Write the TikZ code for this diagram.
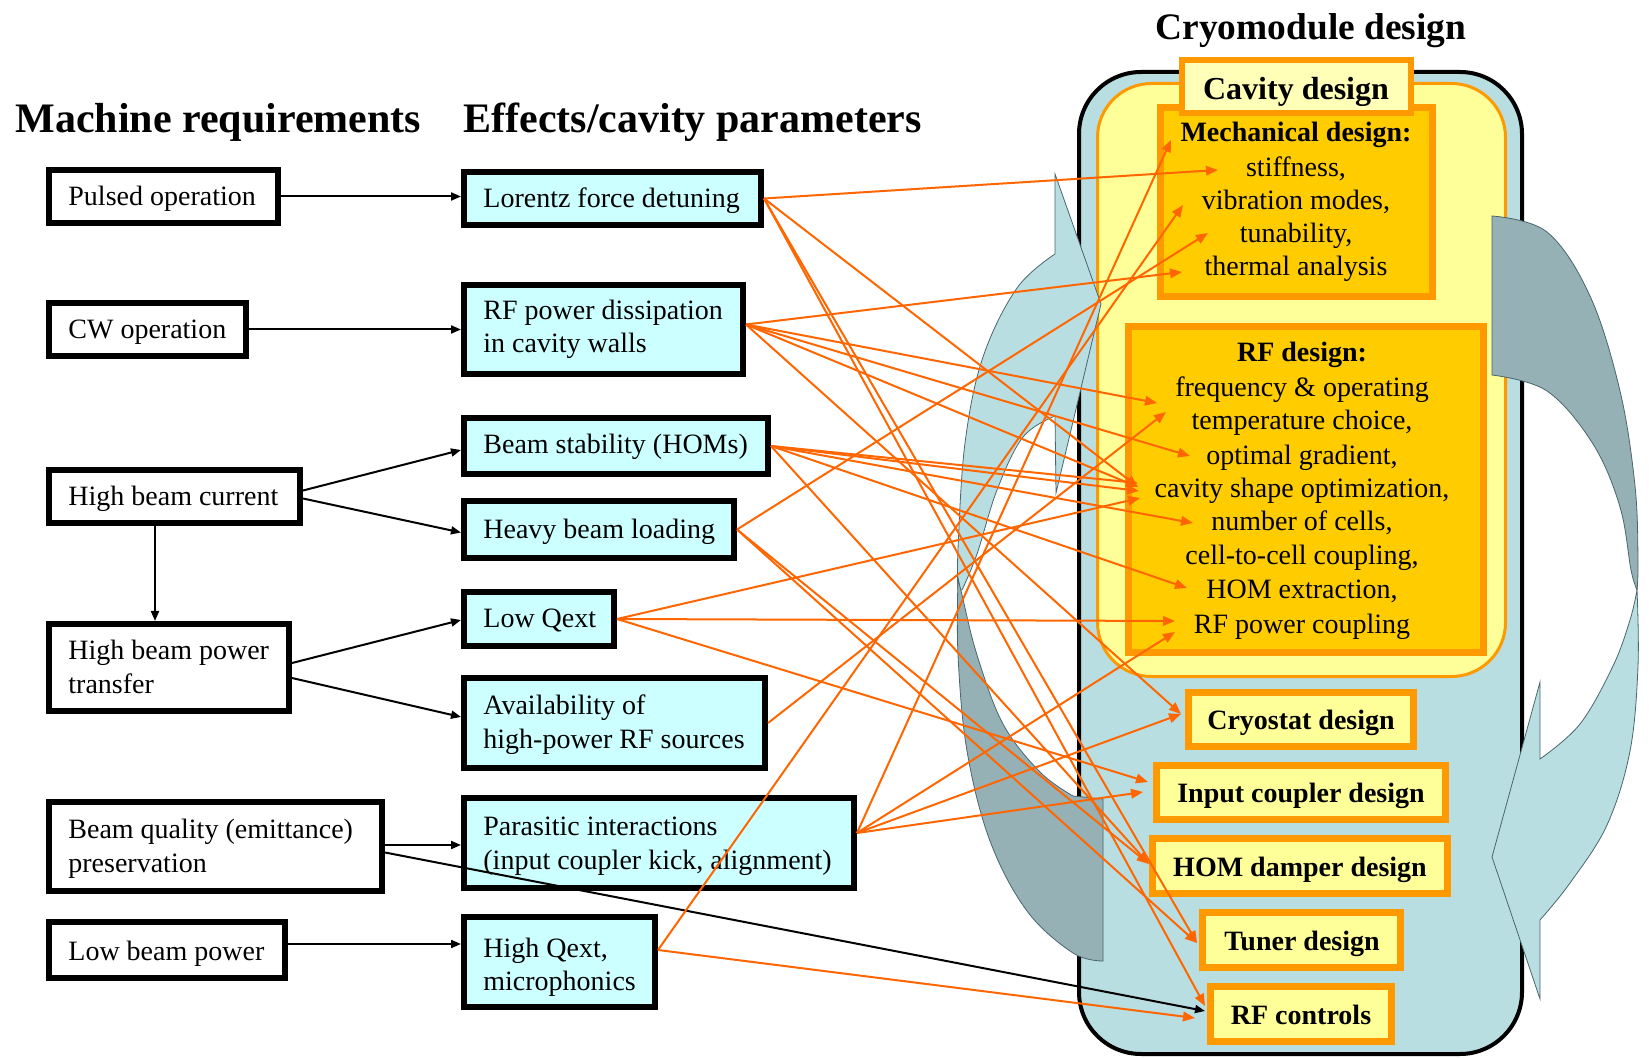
\documentclass[tikz,border=0pt]{standalone}
\usepackage{fontspec}
\setmainfont{Liberation Serif}
\usetikzlibrary{arrows.meta,fit,calc}
\definecolor{cyanfill}{HTML}{CCFFFF}
\definecolor{cryo}{HTML}{B8DEE2}
\definecolor{arrdark}{HTML}{95B1B5}
\definecolor{arredge}{HTML}{4A666C}
\definecolor{yel}{HTML}{FFFF99}
\definecolor{paleyel}{HTML}{FFFFB8}
\definecolor{gold}{HTML}{FFCC00}
\definecolor{orng}{HTML}{FF9900}
\definecolor{lineorange}{HTML}{FF6600}
\tikzset{
  lbox/.style={draw=black, line width=3pt, fill=white, inner sep=-1.5pt},
  cbox/.style={lbox, fill=cyanfill},
  obox/.style={draw=orng, line width=3.5pt, fill=yel, inner sep=-1.75pt},
  gbox/.style={obox, fill=gold},
  txt/.style={font=\fontsize{14}{16}\selectfont, inner sep=0pt, anchor=base west},
  ctxt/.style={font=\fontsize{14}{16}\selectfont, inner sep=0pt, anchor=base},
  btxt/.style={font=\fontsize{14}{16}\selectfont\bfseries, inner sep=0pt, anchor=base},
  head/.style={font=\fontsize{21}{24}\selectfont\bfseries, inner sep=0pt, anchor=base west},
  barrow/.style={draw=black, line width=1pt, -{Triangle[length=5pt,width=4pt]}},
  oarrow/.style={draw=lineorange, line width=1pt, -{Triangle[length=6pt,width=4.8pt]}},
  arrlight/.style={fill=cryo, draw=arredge, line width=0.4pt},
  arrdarkst/.style={fill=arrdark, draw=arredge, line width=0.4pt},
}
\begin{document}
\begin{tikzpicture}[x=0.5pt,y=-0.5pt]
\useasboundingbox (0,0) rectangle (1649,1058);

% ---------- cryomodule and cavity containers ----------
\node[fit={(1077,70) (1524,1056)}, draw=black, line width=2pt, fill=cryo, inner sep=-1pt, rounded corners=31pt] (cryomod) {};
\node[font=\fontsize{18.7}{21}\selectfont\bfseries, inner sep=0pt, anchor=base] (cryotitle) at (1311,40) {Cryomodule design};
\node[fit={(1096,82) (1507,678)}, draw=orng, line width=1.5pt, fill=yel, inner sep=-0.75pt, rounded corners=27pt] (cavity) {};

% ---------- curved arrows ----------
\filldraw[arrlight] (1055,174) -- (1101,304) -- (1056,493) -- (1055,416)
  -- plot[smooth, tension=0.6] coordinates {(1055,416) (1023,437) (997,490) (977,554) (962,590)}
  -- plot[smooth, tension=0.6] coordinates {(958,590) (958,549) (965,443) (983,357) (1017,288) (1055,254)} -- cycle;
\filldraw[arrdarkst] plot[smooth, tension=0.6] coordinates {(958,578) (958,655) (967,751) (990,841) (1027,911) (1073,953) (1103,961)}
  -- (1103,799)
  -- plot[smooth, tension=0.6] coordinates {(1073,796) (1040,772) (1003,724) (977,655) (962,595) (958,578)} -- cycle;
\filldraw[arrdarkst] (1492,216)
  -- plot[smooth, tension=0.6] coordinates {(1492,216) (1547,232) (1590,296) (1620,391) (1635,486) (1638,560) (1637,590)}
  -- plot[smooth, tension=0.6] coordinates {(1637,590) (1631,570) (1620,507) (1593,444) (1547,391) (1492,375)} -- cycle;
\filldraw[arrlight] (1637,590)
  -- plot[smooth, tension=0.6] coordinates {(1637,590) (1638,666) (1630,751) (1607,825) (1570,883) (1540,920)}
  -- (1540,999) -- (1492,857) -- (1540,682) -- (1540,759)
  -- plot[smooth, tension=0.6] coordinates {(1540,759) (1580,724) (1613,666) (1630,620) (1637,590)} -- cycle;

% ---------- cavity design contents ----------
\node[gbox, fit={(1157,104) (1436,300)}] (mech) {};
\node[gbox, fit={(1125,323) (1487,656)}] (rfd) {};
\node[fit={(1179,57) (1414,116)}, draw=orng, line width=3pt, fill=paleyel, inner sep=-1.5pt] (cavlabel) {};
\node[font=\fontsize{16}{18}\selectfont\bfseries, inner sep=0pt, anchor=base] (cavtext) at (1296,100) {Cavity design};

\node[btxt] (m1) at (1296,142) {Mechanical design:};
\node[ctxt] (m2) at (1296,177) {stiffness,};
\node[ctxt] (m3) at (1296,210) {vibration modes,};
\node[ctxt] (m4) at (1296,243) {tunability,};
\node[ctxt] (m5) at (1296,276) {thermal analysis};

\node[btxt] (r1) at (1302,362) {RF design:};
\node[ctxt] (r2) at (1302,397) {frequency \& operating};
\node[ctxt] (r3) at (1302,430) {temperature choice,};
\node[ctxt] (r4) at (1302,465) {optimal gradient,};
\node[ctxt] (r5) at (1302,498) {cavity shape optimization,};
\node[ctxt] (r6) at (1302,531) {number of cells,};
\node[ctxt] (r7) at (1302,565) {cell-to-cell coupling,};
\node[ctxt] (r8) at (1302,599) {HOM extraction,};
\node[ctxt] (r9) at (1302,633) {RF power coupling};

% ---------- other cryomodule boxes ----------
\node[obox, fit={(1185,689) (1417,750)}] (cryostat) {};
\node[btxt] (cryostat-t) at (1301,729) {Cryostat design};
\node[obox, fit={(1153,762) (1449,823)}] (input) {};
\node[btxt] (input-t) at (1301,802) {Input coupler design};
\node[obox, fit={(1149,835) (1451,897)}] (homd) {};
\node[btxt] (homd-t) at (1300,876) {HOM damper design};
\node[obox, fit={(1199,909) (1404,971)}] (tuner) {};
\node[btxt] (tuner-t) at (1302,950) {Tuner design};
\node[obox, fit={(1207,983) (1395,1045)}] (rfc) {};
\node[btxt] (rfc-t) at (1301,1024) {RF controls};

% ---------- headings ----------
\node[head] (h1) at (15,133) {Machine requirements};
\node[head] (h2) at (463,133) {Effects/cavity parameters};

% ---------- machine requirement boxes ----------
\node[lbox, fit={(46,167) (281,226)}] (pulsed) {};
\node[txt] (pulsed-t) at (68,206) {Pulsed operation};
\node[lbox, fit={(46,300) (249,359)}] (cw) {};
\node[txt] (cw-t) at (68,339) {CW operation};
\node[lbox, fit={(46,467) (303,526)}] (hbc) {};
\node[txt] (hbc-t) at (68,506) {High beam current};
\node[lbox, fit={(46,621) (292,714)}] (hbpt) {};
\node[txt] (hbpt-t1) at (68,660) {High beam power};
\node[txt] (hbpt-t2) at (68,693) {transfer};
\node[lbox, fit={(46,799) (385,894)}] (bq) {};
\node[txt] (bq-t1) at (68,838) {Beam quality (emittance)};
\node[txt] (bq-t2) at (68,872) {preservation};
\node[lbox, fit={(46,919) (288,981)}] (lbp) {};
\node[txt] (lbp-t) at (68,960) {Low beam power};

% ---------- effects boxes ----------
\node[cbox, fit={(461,169) (764,228)}] (lfd) {};
\node[txt] (lfd-t) at (483,208) {Lorentz force detuning};
\node[cbox, fit={(461,282) (746,377)}] (rfp) {};
\node[txt] (rfp-t1) at (483,320) {RF power dissipation};
\node[txt] (rfp-t2) at (483,353) {in cavity walls};
\node[cbox, fit={(461,415) (771,477)}] (bs) {};
\node[txt] (bs-t) at (483,454) {Beam stability (HOMs)};
\node[cbox, fit={(461,498) (737,561)}] (hbl) {};
\node[txt] (hbl-t) at (483,539) {Heavy beam loading};
\node[cbox, fit={(461,589) (617,649)}] (lq) {};
\node[txt] (lq-t) at (483,628) {Low Qext};
\node[cbox, fit={(461,675) (768,771)}] (av) {};
\node[txt] (av-t1) at (483,714) {Availability of};
\node[txt] (av-t2) at (483,748) {high-power RF sources};
\node[cbox, fit={(461,795) (857,891)}] (pi) {};
\node[txt] (pi-t1) at (483,835) {Parasitic interactions};
\node[txt] (pi-t2) at (483,869) {(input coupler kick, alignment)};
\node[cbox, fit={(461,914) (658,1010)}] (hq) {};
\node[txt] (hq-t1) at (483,957) {High Qext,};
\node[txt] (hq-t2) at (483,990) {microphonics};

% ---------- black connectors ----------
\draw[barrow] (pulsed.east) -- (pulsed.east -| lfd.west);
\draw[barrow] (cw.east) -- (cw.east -| rfp.west);
\draw[barrow] ($(hbc.east)+(0,-6)$) -- ($(bs.west)+(0,4)$);
\draw[barrow] ($(hbc.east)+(0,2)$) -- ($(hbl.west)+(0,3)$);
\coordinate (vstart) at (155,526);
\draw[barrow] (vstart) -- (vstart |- hbpt.north);
\draw[barrow] ($(hbpt.east)+(0,-4.5)$) -- ($(lq.west)+(0,1)$);
\draw[barrow] ($(hbpt.east)+(0,10.5)$) -- ($(av.west)+(0,-6)$);
\draw[barrow] ($(bq.east)+(0,-1.5)$) -- ($(pi.west)+(0,2)$);
\draw[barrow] ($(lbp.east)+(0,-6)$) -- ($(hq.west)+(0,-18)$);
\coordinate (tRFCk) at (1205,1011);
\draw[barrow] ($(bq.east)+(0,6)$) -- (tRFCk);

% ---------- orange connectors ----------
\coordinate (tMech) at (1171,140);
\coordinate (tStiff) at (1218,170);
\coordinate (tVib) at (1183,205);
\coordinate (tTun) at (1208,233);
\coordinate (tTherm) at (1182,272);
\coordinate (tFreq) at (1157,403);
\coordinate (tTemp) at (1166,412);
\coordinate (tOpt) at (1190,456);
\coordinate (tCav) at (1138,487);
\coordinate (tCavA) at (1138,483);
\coordinate (tCavC) at (1139,491);
\coordinate (tCavB) at (1140,498);
\coordinate (tCells) at (1193,523);
\coordinate (tHOMx) at (1187,588);
\coordinate (tRFcA) at (1175,621);
\coordinate (tRFcB) at (1175,632);
\coordinate (tCryo) at (1181,714);
\coordinate (tInA) at (1148,782);
\coordinate (tInB) at (1143,792);
\coordinate (tHOMd) at (1149,864);
\coordinate (tTuner) at (1197,943);
\coordinate (tRFC) at (1205,1006);
\coordinate (tRFCb) at (1195,1018);

\coordinate (sP) at ($(rfp.east)+(0,-5)$);
\coordinate (sX) at ($(pi.east)+(0,-10)$);
\coordinate (sQ) at ($(hq.east)+(0,-12)$);

\draw[oarrow] (lfd.east) -- (tStiff);
\draw[oarrow] (lfd.east) -- (tCav);
\draw[oarrow] (lfd.east) -- (tTuner);
\draw[oarrow] (lfd.east) -- (tRFC);

\draw[oarrow] (sP) -- (tTherm);
\draw[oarrow] (sP) -- (tFreq);
\draw[oarrow] (sP) -- (tOpt);
\draw[oarrow] (sP) -- (tCav);
\draw[oarrow] (sP) -- (tCryo);

\draw[oarrow] (bs.east) -- (tCavA);
\draw[oarrow] (bs.east) -- (tCavC);
\draw[oarrow] (bs.east) -- (tCells);
\draw[oarrow] (bs.east) -- (tHOMx);
\draw[oarrow] (bs.east) -- (tHOMd);

\draw[oarrow] (hbl.east) -- (tTun);
\draw[oarrow] (hbl.east) -- (tHOMd);
\draw[oarrow] (hbl.east) -- (tTuner);

\draw[oarrow] (lq.east) -- (tCavB);
\draw[oarrow] (lq.east) -- (tRFcA);
\draw[oarrow] (lq.east) -- (tInA);

\draw[oarrow] (av.east) -- (tTemp);

\draw[oarrow] (sX) -- (tMech);
\draw[oarrow] (sX) -- (tRFcB);
\draw[oarrow] (sX) -- (tCryo);
\draw[oarrow] (sX) -- (tInB);

\draw[oarrow] (sQ) -- (tVib);
\draw[oarrow] (sQ) -- (tRFCb);
\end{tikzpicture}
\end{document}
